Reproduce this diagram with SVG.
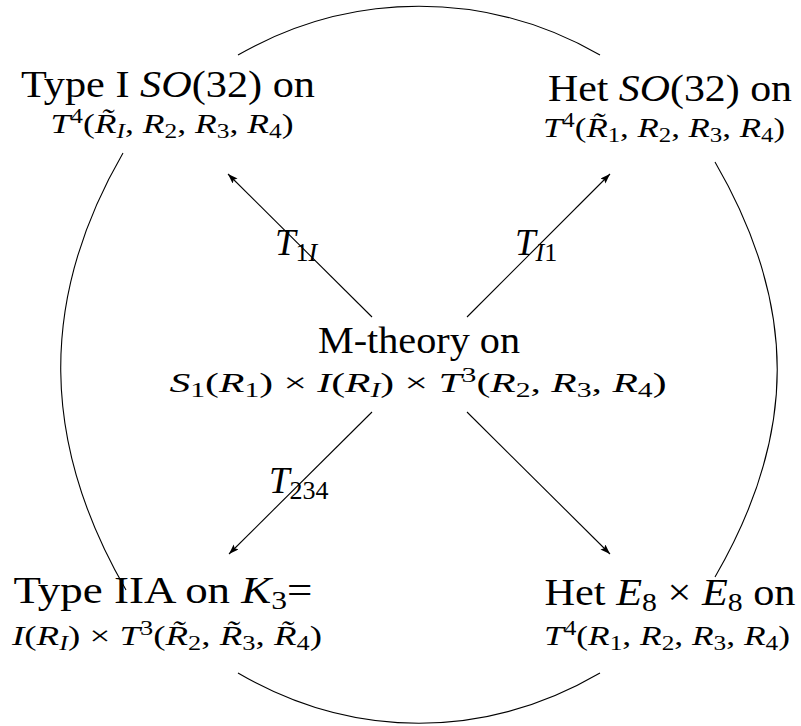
<svg xmlns="http://www.w3.org/2000/svg" width="801" height="726" viewBox="0 0 801 726">
<style>
text{font-family:"Liberation Serif","Times New Roman",serif;fill:#000}
.t1{font-size:37px}
.t2{font-size:28px}
.lb{font-size:37px}
.i{font-style:italic}
.s1{font-size:26px}
.s2{font-size:20px}
.s3{font-size:26px}
.ln{fill:none;stroke:#000;stroke-width:1.1}
</style>
<defs>
<marker id="ah" markerUnits="userSpaceOnUse" markerWidth="11" markerHeight="8" refX="10" refY="3.5" orient="auto">
<path d="M0,0 L10,3.5 L0,7 L2,3.5 z" fill="#000"/>
</marker>
</defs>
<rect width="801" height="726" fill="#fff"/>
<g id="connectors">
<path class="ln" d="M238,55 C351,-10 487,-10 600,55"/>
<path class="ln" d="M123,153 C38,300 41,443 126,590"/>
<path class="ln" d="M715,162 C798,305 798,434 715,577"/>
<path class="ln" d="M238,673 C353,740 485,740 600,673"/>
<line class="ln" x1="372" y1="317" x2="228" y2="174" marker-end="url(#ah)"/>
<line class="ln" x1="467" y1="317" x2="610" y2="174" marker-end="url(#ah)"/>
<line class="ln" x1="372" y1="412" x2="229" y2="554" marker-end="url(#ah)"/>
<line class="ln" x1="467" y1="412" x2="610" y2="554" marker-end="url(#ah)"/>
<text class="lb" x="275" y="255"><tspan class="i">T</tspan><tspan class="s3" dy="6">1</tspan><tspan class="s3 i">I</tspan></text>
<text class="lb" x="515" y="255"><tspan class="i">T</tspan><tspan class="s3 i" dy="6">I</tspan><tspan class="s3">1</tspan></text>
<text class="lb" x="269" y="493"><tspan class="i">T</tspan><tspan class="s3" dy="6">234</tspan></text>
</g>
<g id="type1">
<text class="t1" x="168" y="97" text-anchor="middle" textLength="294" lengthAdjust="spacingAndGlyphs">Type I <tspan class="i">SO</tspan>(32) on</text>
<text class="t2" x="172" y="133" text-anchor="middle" textLength="243" lengthAdjust="spacingAndGlyphs"><tspan class="i">T</tspan><tspan class="s2" dy="-10">4</tspan><tspan dy="10">(</tspan><tspan class="i">R̃</tspan><tspan class="s2 i" dy="5">I</tspan><tspan dy="-5">, </tspan><tspan class="i">R</tspan><tspan class="s2" dy="5">2</tspan><tspan dy="-5">, </tspan><tspan class="i">R</tspan><tspan class="s2" dy="5">3</tspan><tspan dy="-5">, </tspan><tspan class="i">R</tspan><tspan class="s2" dy="5">4</tspan><tspan dy="-5">)</tspan></text>
</g>
<g id="hetSO32">
<text class="t1" x="670" y="101" text-anchor="middle" textLength="244" lengthAdjust="spacingAndGlyphs">Het <tspan class="i">SO</tspan>(32) on</text>
<text class="t2" x="664" y="137" text-anchor="middle" textLength="242" lengthAdjust="spacingAndGlyphs"><tspan class="i">T</tspan><tspan class="s2" dy="-10">4</tspan><tspan dy="10">(</tspan><tspan class="i">R̃</tspan><tspan class="s2" dy="5">1</tspan><tspan dy="-5">, </tspan><tspan class="i">R</tspan><tspan class="s2" dy="5">2</tspan><tspan dy="-5">, </tspan><tspan class="i">R</tspan><tspan class="s2" dy="5">3</tspan><tspan dy="-5">, </tspan><tspan class="i">R</tspan><tspan class="s2" dy="5">4</tspan><tspan dy="-5">)</tspan></text>
</g>
<g id="mtheory">
<text class="t1" x="419" y="353" text-anchor="middle" textLength="202" lengthAdjust="spacingAndGlyphs">M-theory on</text>
<text class="t2" x="418" y="392" text-anchor="middle" textLength="497" lengthAdjust="spacingAndGlyphs"><tspan class="i">S</tspan><tspan class="s2" dy="5">1</tspan><tspan dy="-5">(</tspan><tspan class="i">R</tspan><tspan class="s2" dy="5">1</tspan><tspan dy="-5">) × </tspan><tspan class="i">I</tspan>(<tspan class="i">R</tspan><tspan class="s2 i" dy="5">I</tspan><tspan dy="-5">) × </tspan><tspan class="i">T</tspan><tspan class="s2" dy="-10">3</tspan><tspan dy="10">(</tspan><tspan class="i">R</tspan><tspan class="s2" dy="5">2</tspan><tspan dy="-5">, </tspan><tspan class="i">R</tspan><tspan class="s2" dy="5">3</tspan><tspan dy="-5">, </tspan><tspan class="i">R</tspan><tspan class="s2" dy="5">4</tspan><tspan dy="-5">)</tspan></text>
</g>
<g id="typeIIA">
<text class="t1" x="163" y="603" text-anchor="middle" textLength="299" lengthAdjust="spacingAndGlyphs">Type IIA on <tspan class="i">K</tspan><tspan class="s1" dy="6">3</tspan><tspan dy="-6">=</tspan></text>
<text class="t2" x="167" y="645" text-anchor="middle" textLength="310" lengthAdjust="spacingAndGlyphs"><tspan class="i">I</tspan>(<tspan class="i">R</tspan><tspan class="s2 i" dy="5">I</tspan><tspan dy="-5">) × </tspan><tspan class="i">T</tspan><tspan class="s2" dy="-10">3</tspan><tspan dy="10">(</tspan><tspan class="i">R̃</tspan><tspan class="s2" dy="5">2</tspan><tspan dy="-5">, </tspan><tspan class="i">R̃</tspan><tspan class="s2" dy="5">3</tspan><tspan dy="-5">, </tspan><tspan class="i">R̃</tspan><tspan class="s2" dy="5">4</tspan><tspan dy="-5">)</tspan></text>
</g>
<g id="hetE8">
<text class="t1" x="670" y="605" text-anchor="middle" textLength="251" lengthAdjust="spacingAndGlyphs">Het <tspan class="i">E</tspan><tspan class="s1" dy="6">8</tspan><tspan dy="-6"> × </tspan><tspan class="i">E</tspan><tspan class="s1" dy="6">8</tspan><tspan dy="-6"> on</tspan></text>
<text class="t2" x="667" y="645" text-anchor="middle" textLength="246" lengthAdjust="spacingAndGlyphs"><tspan class="i">T</tspan><tspan class="s2" dy="-10">4</tspan><tspan dy="10">(</tspan><tspan class="i">R</tspan><tspan class="s2" dy="5">1</tspan><tspan dy="-5">, </tspan><tspan class="i">R</tspan><tspan class="s2" dy="5">2</tspan><tspan dy="-5">, </tspan><tspan class="i">R</tspan><tspan class="s2" dy="5">3</tspan><tspan dy="-5">, </tspan><tspan class="i">R</tspan><tspan class="s2" dy="5">4</tspan><tspan dy="-5">)</tspan></text>
</g>
</svg>
